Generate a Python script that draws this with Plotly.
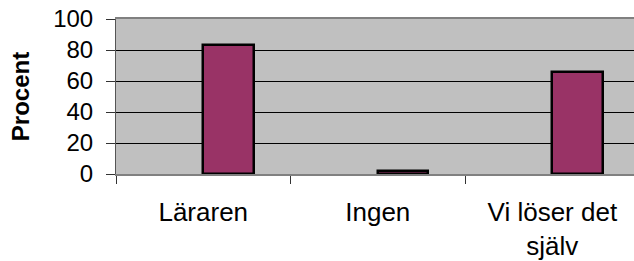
import plotly.graph_objects as go

categories = ["Läraren", "Ingen", "Vi löser det<br>själv"]
values = [83, 2, 66]
y_ticks = [0, 20, 40, 60, 80, 100]

fig = go.Figure()
fig.add_trace(go.Bar(
    x=categories, y=values,
    marker=dict(color="#993366", line=dict(color="#000000", width=2.5)),
    width=0.29, offset=0,
))

font = "Liberation Sans, Arial, sans-serif"
fig.update_layout(
    width=634, height=261,
    margin=dict(l=116, r=0, t=19, b=87),
    paper_bgcolor="white", plot_bgcolor="#C0C0C0",
    showlegend=False,
    bargap=0,
    font=dict(family=font, color="black"),
)
fig.update_xaxes(
    type="category", range=[-0.5, 2.468], automargin=False,
    tickson="boundaries", ticks="outside", ticklen=8, tickcolor="#333333", tickwidth=1,
    showline=True, linecolor="#808080", linewidth=2, mirror=True,
    showgrid=False,
    tickfont=dict(size=26, family=font, color="black"),
    ticklabelstandoff=14,
)
fig.update_yaxes(
    range=[0, 100], tickvals=y_ticks, automargin=False,
    ticks="outside", ticklen=9, tickcolor="#333333", tickwidth=1,
    showline=True, linecolor="#555555", linewidth=1,
    showgrid=True, gridcolor="#000000", gridwidth=1,
    zeroline=True, zerolinecolor="#333333", zerolinewidth=1,
    tickfont=dict(size=24, family=font, color="black"),
    ticklabelstandoff=8,
    title=dict(text="<b>Procent</b>", font=dict(size=24, family=font, color="black"), standoff=16),
)

fig.write_html(
    "out.html",
    config={"displayModeBar": False},
    post_script="document.body.style.margin='0';document.body.style.overflow='hidden';",
)
